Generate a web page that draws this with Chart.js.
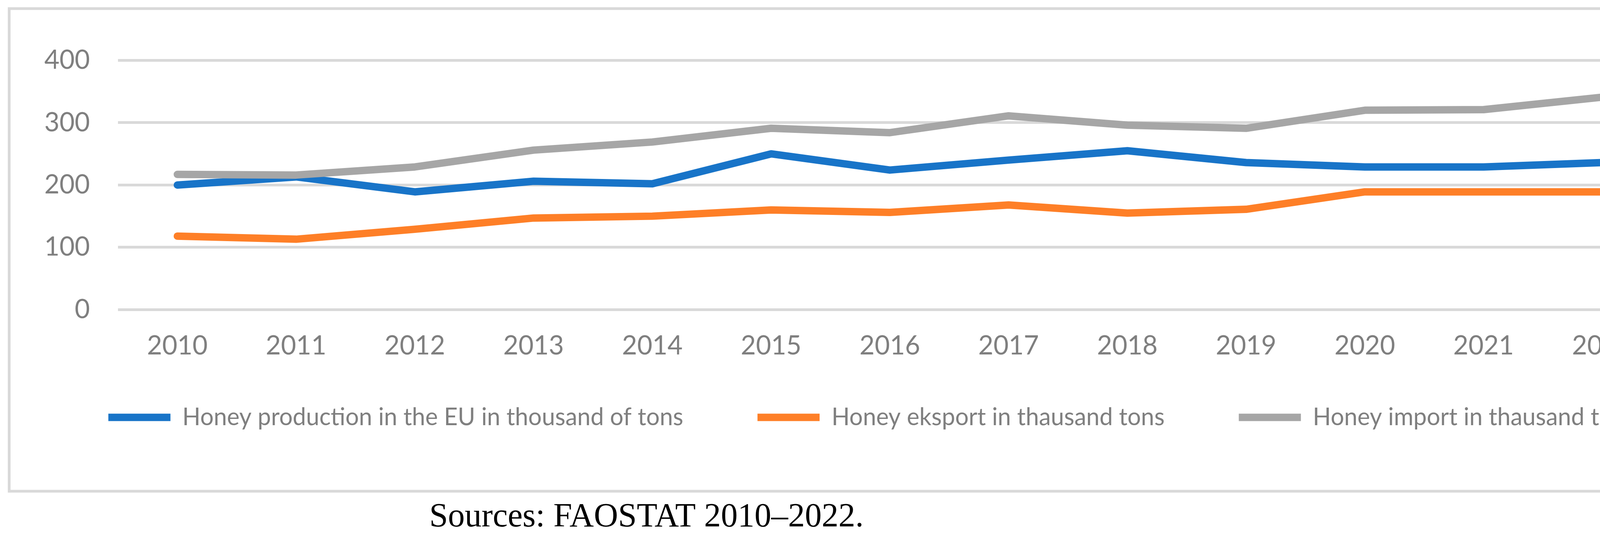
<!DOCTYPE html>
<html>
<head>
<meta charset="utf-8">
<script src="https://cdn.jsdelivr.net/npm/chart.js@4/dist/chart.umd.min.js"></script>
<style>
html,body{margin:0;padding:0;background:#fff;overflow:hidden}
#wrap{position:relative;width:4386px;height:1369px}
canvas{display:block}
</style>
</head>
<body>
<div id="wrap"><canvas id="c" width="4386" height="1369"></canvas></div>
<script>
const years = ['2010','2011','2012','2013','2014','2015','2016','2017','2018','2019','2020','2021','2022'];
const productionEU = [200, 213, 189, 206, 202, 250, 224, 240, 255, 236, 229, 229, 236];
const exportTons   = [118, 113, 129, 147, 150, 160, 156, 168, 155, 161, 189, 189, 189];
const importTons   = [217, 216, 229, 256, 269, 291, 284, 311, 296, 291, 320, 321, 341];
const seriesNames = [
  'Honey production in the EU in thousand of tons',
  'Honey eksport in thausand tons',
  'Honey import in thausand tons'
];
const yMin = 0, yMax = 400, yStep = 100;
const sourceNote = 'Sources: FAOSTAT 2010\u20132022.';

const LEGEND_ROW_Y = 1068;   // vertical centre of the legend row
const LEGEND_SHIFT_X = 40;

const frame = {
  id: 'frame',
  afterLayout(chart) {
    const lg = chart.legend;
    const opts = lg.options.labels;
    const fs = opts.font.size;
    const want = LEGEND_ROW_Y - opts.padding - fs / 2;
    const dy = want - lg.top;
    lg.top += dy; lg.bottom += dy;
    lg.left += LEGEND_SHIFT_X; lg.right += LEGEND_SHIFT_X;
  },
  beforeDraw(chart) {
    const ctx = chart.ctx;
    ctx.save();
    ctx.fillStyle = '#ffffff';
    ctx.fillRect(0, 0, chart.width, chart.height);
    ctx.strokeStyle = '#d9d9d9';
    ctx.lineWidth = 7;
    ctx.strokeRect(23.5, 22, 4337.5, 1235);
    ctx.restore();
  },
  afterDraw(chart) {
    const ctx = chart.ctx;
    ctx.save();
    ctx.font = '86px "Liberation Serif"';
    ctx.fillStyle = '#000000';
    ctx.textAlign = 'left';
    ctx.textBaseline = 'alphabetic';
    ctx.fillText(sourceNote, 1099, 1347);
    ctx.restore();
  }
};

const mk = (label, data, color, order) => ({
  label, data, borderColor: color, backgroundColor: color,
  borderWidth: 19, borderCapStyle: 'round', borderJoinStyle: 'round',
  pointRadius: 0, pointHoverRadius: 0, tension: 0, fill: false, order,
  yAxisID: 'y'
});

new Chart(document.getElementById('c'), {
  type: 'line',
  data: {
    labels: years,
    datasets: [
      mk(seriesNames[0], productionEU, '#1874C8', 3),
      mk(seriesNames[1], exportTons, '#FE7F27', 2),
      mk(seriesNames[2], importTons, '#A6A6A6', 1)
    ]
  },
  options: {
    responsive: false,
    devicePixelRatio: 1,
    animation: false,
    events: [],
    font: { family: 'Lato' },
    layout: { padding: { top: 154.5, left: 0, right: 0, bottom: 115.7 } },
    scales: {
      x: {
        offset: true,
        grid: { display: false, drawTicks: false },
        border: { display: false },
        ticks: { color: '#7f7f7f', font: { family: 'Lato', size: 67 }, padding: 53, maxRotation: 0, autoSkip: false },
        afterFit(axis) { axis.height = 200; }
      },
      y: {
        position: 'left',
        min: yMin, max: yMax,
        grid: { color: '#d9d9d9', lineWidth: 7, drawTicks: false },
        border: { display: false },
        ticks: { stepSize: yStep, color: '#7f7f7f', font: { family: 'Lato', size: 67 }, padding: 72 },
        afterFit(axis) { axis.width = 302; }
      },
      yRight: {
        position: 'right',
        min: yMin, max: yMax,
        grid: { display: false, drawTicks: false },
        border: { display: false },
        ticks: { display: false },
        afterFit(axis) { axis.width = 132; }
      }
    },
    plugins: {
      tooltip: { enabled: false },
      legend: {
        position: 'bottom',
        labels: {
          usePointStyle: true,
          pointStyle: 'line',
          pointStyleWidth: 159,
          color: '#7f7f7f',
          font: { family: 'Lato', size: 61 },
          padding: 190,
          sort: (a, b) => a.datasetIndex - b.datasetIndex
        }
      }
    }
  },
  plugins: [frame]
});
</script>
</body>
</html>
